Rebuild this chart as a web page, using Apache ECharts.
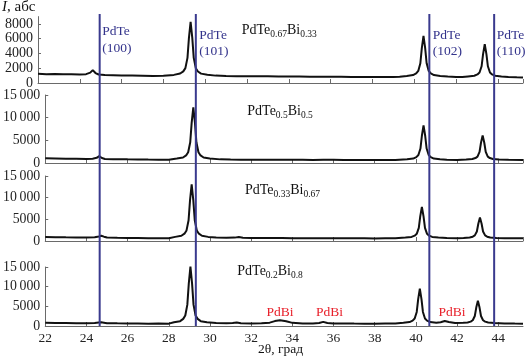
<!DOCTYPE html>
<html><head><meta charset="utf-8">
<script src="https://cdn.jsdelivr.net/npm/echarts@6/dist/echarts.min.js"></script>
<style>html,body{margin:0;padding:0;background:#fff}#c{width:526px;height:359px}</style>
</head><body><div id="c"></div>
<script>
// ---- data ----
const xMin = 22, xMax = 45.2, xInterval = 2;
const panelMax = [9000, 15000, 15000, 15000];
const panelInterval = [2000, 5000, 5000, 5000];
const refLines = [24.95, 29.55, 40.72, 43.82];
const refLabels = ['(100)', '(101)', '(102)', '(110)'];
const refPhase = 'PdTe';
const sampleNames = [
  [['PdTe',0],['0.67',1],['Bi',0],['0.33',1]],
  [['PdTe',0],['0.5',1],['Bi',0],['0.5',1]],
  [['PdTe',0],['0.33',1],['Bi',0],['0.67',1]],
  [['PdTe',0],['0.2',1],['Bi',0],['0.8',1]]
];
const pdbiPeaks = [33.4, 35.8, 41.75];
const pdbiLabel = 'PdBi';
const yTitle = ['I', ', абс'];
const xTitle = '2θ, град';

const s1 = [[22,1250],[22.4,1200],[22.8,1230],[23.2,1180],[23.6,1200],[24,1150],[24.3,1200],[24.5,1400],[24.62,1750],[24.75,1350],[24.9,1150],[25.2,1080],[25.6,1050],[26,1020],[26.5,1000],[27,980],[27.5,960],[28,970],[28.5,1100],[28.8,1290],[28.95,1580],[29.05,2020],[29.15,3410],[29.22,6110],[29.3,8300],[29.38,6110],[29.45,3410],[29.55,2000],[29.65,1560],[29.8,1270],[30.1,1130],[30.5,1000],[31,950],[31.5,930],[32,900],[32.5,910],[33,900],[33.5,890],[34,880],[34.5,870],[35,850],[35.5,860],[36,850],[36.5,840],[37,830],[37.5,830],[38,820],[38.5,830],[39,820],[39.3,850],[39.64,960],[39.94,1070],[40.09,1290],[40.19,1630],[40.29,2680],[40.36,4740],[40.44,6400],[40.52,4740],[40.59,2680],[40.69,1630],[40.79,1290],[40.94,1070],[41.24,960],[41.6,870],[42,820],[42.3,810],[42.57,890],[42.87,980],[43.02,1160],[43.12,1420],[43.22,2270],[43.29,3920],[43.37,5250],[43.45,3920],[43.52,2270],[43.62,1420],[43.72,1160],[43.87,980],[44.17,890],[44.5,820],[44.9,780],[45.2,760]];
const s2 = [[22,1050],[22.5,1000],[23,950],[23.5,930],[24,900],[24.3,950],[24.5,1150],[24.62,1500],[24.75,1100],[24.9,900],[25.3,850],[26,800],[26.5,790],[27,750],[27.5,740],[28,730],[28.39,980],[28.69,1210],[28.84,1670],[28.94,2370],[29.04,4560],[29.11,8840],[29.19,12300],[29.27,8840],[29.34,4560],[29.44,2370],[29.54,1670],[29.69,1210],[29.99,980],[30.5,800],[31,750],[31.5,740],[32,700],[32.5,710],[33,720],[33.5,700],[34,700],[34.5,690],[35,680],[35.5,690],[36,700],[36.5,680],[37,680],[37.5,660],[38,650],[38.5,660],[39,650],[39.57,830],[39.87,980],[40.02,1290],[40.12,1750],[40.22,3190],[40.29,6010],[40.37,8300],[40.45,6010],[40.52,3190],[40.62,1750],[40.72,1290],[40.87,980],[41.17,830],[41.5,720],[42,660],[42.44,760],[42.74,870],[42.89,1090],[42.99,1410],[43.09,2450],[43.16,4470],[43.24,6100],[43.32,4470],[43.39,2450],[43.49,1410],[43.59,1090],[43.74,870],[44.04,760],[44.5,690],[45.2,650]];
const s3 = [[22,900],[22.5,880],[23,850],[23.5,830],[24,800],[24.4,850],[24.6,1050],[24.72,1200],[24.85,1000],[25,800],[25.5,740],[26,700],[26.5,690],[27,650],[27.5,660],[28,650],[28.31,950],[28.61,1200],[28.76,1690],[28.86,2440],[28.96,4790],[29.03,9380],[29.11,13100],[29.19,9380],[29.26,4790],[29.36,2440],[29.46,1690],[29.61,1200],[29.91,950],[30.3,800],[30.8,760],[31.2,780],[31.4,900],[31.6,760],[32,700],[32.5,690],[33,680],[33.5,670],[34,650],[34.5,660],[35,650],[35.5,650],[36,650],[36.5,640],[37,620],[37.5,620],[38,600],[38.5,610],[39,620],[39.49,790],[39.79,940],[39.94,1230],[40.04,1660],[40.14,3030],[40.21,5690],[40.29,7850],[40.37,5690],[40.44,3030],[40.54,1660],[40.64,1230],[40.79,940],[41.09,790],[41.5,670],[42,630],[42.31,720],[42.61,810],[42.76,1000],[42.86,1290],[42.96,2200],[43.03,3970],[43.11,5400],[43.19,3970],[43.26,2200],[43.36,1290],[43.46,1000],[43.61,810],[43.91,720],[44.3,650],[44.8,630],[45.2,620]];
const s4 = [[22,800],[22.5,780],[23,750],[23.5,720],[24,700],[24.4,760],[24.6,900],[24.72,950],[24.85,850],[25,720],[25.5,680],[26,650],[26.5,640],[27,600],[27.5,610],[28,600],[28.25,940],[28.55,1230],[28.7,1810],[28.8,2670],[28.9,5420],[28.97,10770],[29.05,15100],[29.13,10770],[29.2,5420],[29.3,2670],[29.4,1810],[29.55,1230],[29.85,940],[30.3,750],[30.8,700],[31.1,760],[31.3,900],[31.5,720],[32,650],[32.5,680],[32.9,850],[33.15,1250],[33.4,1450],[33.7,1200],[34,800],[34.5,650],[35,660],[35.3,750],[35.5,1050],[35.7,750],[36,660],[36.5,650],[37,620],[37.5,600],[38,600],[38.5,610],[39,620],[39.39,830],[39.69,1000],[39.84,1360],[39.94,1890],[40.04,3570],[40.11,6850],[40.19,9500],[40.27,6850],[40.34,3570],[40.44,1890],[40.54,1360],[40.69,1000],[40.99,850],[41.2,950],[41.4,1250],[41.6,1000],[41.9,750],[42.3,800],[42.51,880],[42.66,1110],[42.76,1460],[42.86,2550],[42.93,4680],[43.01,6400],[43.09,4680],[43.16,2550],[43.26,1460],[43.36,1110],[43.51,880],[43.81,770],[44.3,650],[44.8,620],[45.2,600]];
const patterns = [s1, s2, s3, s4];

// ---- layout / style ----
const FONT = '"Liberation Serif", "Times New Roman", serif';
const grids = [
  {left: 38, width: 485, top: 16.6, height: 66.4},
  {left: 38, width: 485, top: 95, height: 68},
  {left: 38, width: 485, top: 176, height: 65},
  {left: 38, width: 485, top: 267, height: 59},
  {left: 38, width: 485, top: 14, height: 312}
];
const axisColor = '#6a6a6a';
const refColor = '#3a3a8e';
const refTextColor = '#34348c';

function fmtY(v) {
  const s = String(v);
  return v >= 10000 ? s.slice(0, s.length - 3) + '\u2009' + s.slice(-3) : s;
}

const xAxes = grids.map((g, i) => ({
  gridIndex: i, type: 'value', min: xMin, max: xMax, interval: xInterval,
  show: i < 4,
  axisLine: {show: true, onZero: false, lineStyle: {color: axisColor, width: 1}},
  axisTick: {show: true, inside: true, length: 4, lineStyle: {color: axisColor}},
  axisLabel: {show: i === 3, showMinLabel: true, showMaxLabel: false, fontFamily: FONT, fontSize: 13.5, color: '#222', margin: 5},
  splitLine: {show: false}
}));
const yAxes = grids.map((g, i) => i < 4 ? ({
  gridIndex: i, type: 'value', min: 0, max: panelMax[i], interval: panelInterval[i],
  axisLine: {show: true, lineStyle: {color: axisColor, width: 1}},
  axisTick: {show: true, inside: true, length: 3, lineStyle: {color: axisColor}},
  axisLabel: {showMinLabel: true, showMaxLabel: i > 0, fontFamily: FONT, fontSize: i === 0 ? 14 : 13.8, color: '#222', margin: 5, formatter: fmtY},
  splitLine: {show: false}
}) : ({gridIndex: 4, type: 'value', min: 0, max: 1, show: false}));

const series = patterns.map((d, i) => ({
  type: 'line', xAxisIndex: i, yAxisIndex: i, data: d, symbol: 'none', silent: true,
  lineStyle: {color: '#111', width: 2}, z: 3
}));
refLines.forEach(x => series.push({
  type: 'line', xAxisIndex: 4, yAxisIndex: 4, data: [[x, 0], [x, 1]], symbol: 'none', silent: true,
  lineStyle: {color: refColor, width: 2}, z: 4
}));

const chart = echarts.init(document.getElementById('c'), null, {renderer: 'canvas'});
chart.setOption({
  animation: false,
  backgroundColor: '#fff',
  grid: grids.map(g => Object.assign({containLabel: false}, g)),
  xAxis: xAxes, yAxis: yAxes, series: series
});

// ---- text ----
const ctx = document.createElement('canvas').getContext('2d');
function run(parts, x, base, color, align) {
  // parts: [text, size, isSub, italic]
  const fonts = parts.map(p => (p[3] ? 'italic ' : '') + p[1] + 'px ' + FONT);
  const widths = parts.map((p, i) => { ctx.font = fonts[i]; return ctx.measureText(p[0]).width; });
  const total = widths.reduce((a, b) => a + b, 0);
  let cx = align === 'center' ? x - total / 2 : x;
  return parts.map((p, i) => {
    const el = {
      type: 'text', x: cx, y: base + (p[2] ? 2.5 : 0) - 0.34 * p[1], silent: true, z: 10,
      style: {text: p[0], font: fonts[i], fill: color, align: 'left', verticalAlign: 'middle', textAlign: 'left', textVerticalAlign: 'middle'}
    };
    cx += widths[i];
    return el;
  });
}
const gfx = [];
gfx.push(...run([[yTitle[0], 15, false, true], [yTitle[1], 15, false, false]], 2, 12, '#111'));
const refBase = [36.5, 40, 40, 40];
const refOff = [2.5, 3.5, 3.5, 2.5];
refLines.forEach((x, i) => {
  const px = chart.convertToPixel({xAxisIndex: 4}, x) + refOff[i];
  gfx.push(...run([[refPhase, 13.5, false, false]], px, refBase[i], refTextColor));
  gfx.push(...run([[refLabels[i], 13.5, false, false]], px, refBase[i] + 16.5, refTextColor));
});
const namePos = [[241.7, 35], [247.3, 116], [245, 195], [237.3, 276]];
sampleNames.forEach((nm, i) => {
  gfx.push(...run(nm.map(p => [p[0], p[1] ? 9.5 : 14, !!p[1], false]), namePos[i][0], namePos[i][1], '#111'));
});
pdbiPeaks.forEach(x => {
  const px = chart.convertToPixel({xAxisIndex: 3}, x);
  gfx.push(...run([[pdbiLabel, 13.5, false, false]], px, 316.7, '#e8202a', 'center'));
});
gfx.push(...run([[xTitle, 13.5, false, false]], 280.5, 354, '#111', 'center'));
chart.setOption({graphic: gfx});
</script>
</body></html>
